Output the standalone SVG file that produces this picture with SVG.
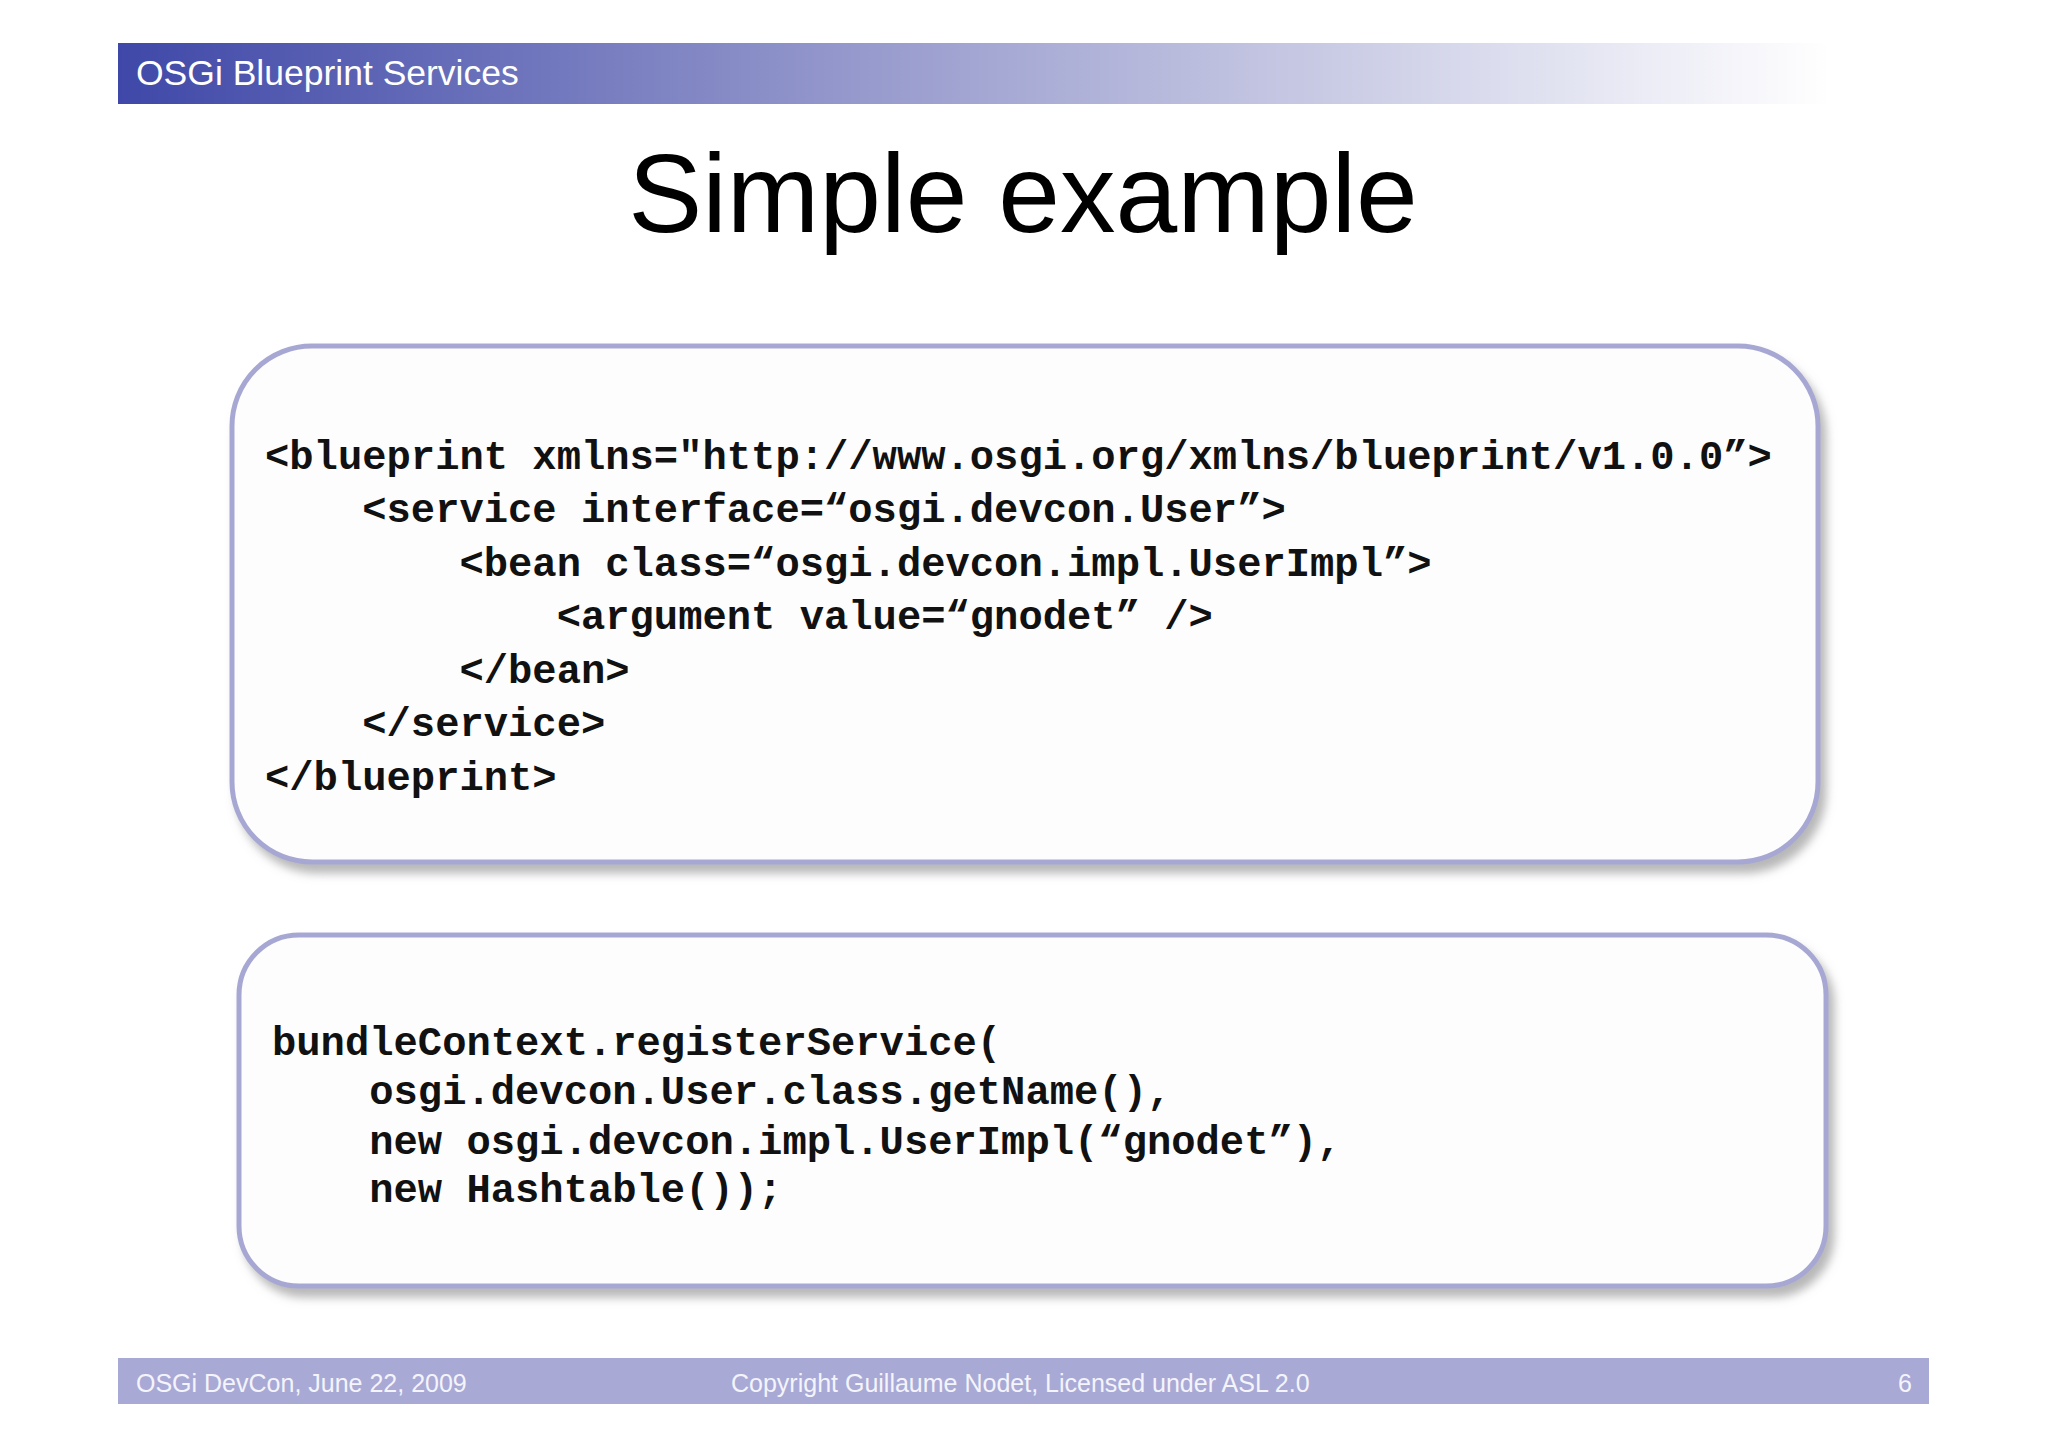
<svg xmlns="http://www.w3.org/2000/svg" width="2048" height="1447" viewBox="0 0 2048 1447">
<defs>
<linearGradient id="hg" x1="0" x2="1" y1="0" y2="0">
<stop offset="0" stop-color="#3f48a8"/><stop offset="0.5" stop-color="#a3a6d2"/><stop offset="1" stop-color="#ffffff"/>
</linearGradient>
<filter id="sh" x="-5%" y="-5%" width="110%" height="115%"><feDropShadow dx="6" dy="9" stdDeviation="5" flood-color="#888" flood-opacity="0.6"/></filter>
<style>
.code{font-family:"Liberation Mono",monospace;font-weight:bold;font-size:40.5px;fill:#111;white-space:pre}
.box{fill:#fdfdfd;stroke:#a7a7d3;stroke-width:5}
.ft{font-family:"Liberation Sans",Arial,sans-serif;font-size:25px;fill:#f4f4fb}
</style>
</defs>
<rect width="2048" height="1447" fill="#fff"/>
<g id="header">
<rect x="118" y="43" width="1712" height="61" fill="url(#hg)"/>
<text x="136" y="85" font-family="Liberation Sans,Arial,sans-serif" font-size="35.5" fill="#fff">OSGi Blueprint Services</text>
</g>
<g id="title"><text x="1023" y="232" text-anchor="middle" font-family="Liberation Sans,Arial,sans-serif" font-size="111" fill="#000">Simple example</text></g>
<g id="box1">
<rect class="box" x="232" y="346" width="1586" height="516" rx="80" filter="url(#sh)"/>
<text class="code" x="265" y="469">&lt;blueprint xmlns="http://www.osgi.org/xmlns/blueprint/v1.0.0”&gt;</text>
<text class="code" x="265" y="522">    &lt;service interface=“osgi.devcon.User”&gt;</text>
<text class="code" x="265" y="576">        &lt;bean class=“osgi.devcon.impl.UserImpl”&gt;</text>
<text class="code" x="265" y="629">            &lt;argument value=“gnodet” /&gt;</text>
<text class="code" x="265" y="683">        &lt;/bean&gt;</text>
<text class="code" x="265" y="736">    &lt;/service&gt;</text>
<text class="code" x="265" y="790">&lt;/blueprint&gt;</text>
</g>
<g id="box2">
<rect class="box" x="239" y="935" width="1587" height="351" rx="60" filter="url(#sh)"/>
<text class="code" x="272" y="1055">bundleContext.registerService(</text>
<text class="code" x="272" y="1104">    osgi.devcon.User.class.getName(),</text>
<text class="code" x="272" y="1154">    new osgi.devcon.impl.UserImpl(“gnodet”),</text>
<text class="code" x="272" y="1202">    new Hashtable());</text>
</g>
<g id="footer">
<rect x="118" y="1358" width="1811" height="46" fill="#a9a9d6"/>
<text class="ft" x="136" y="1392">OSGi DevCon, June 22, 2009</text>
<text class="ft" x="731" y="1392">Copyright Guillaume Nodet, Licensed under ASL 2.0</text>
<text class="ft" x="1898" y="1392">6</text>
</g>
<g id="connectors"/>
</svg>
